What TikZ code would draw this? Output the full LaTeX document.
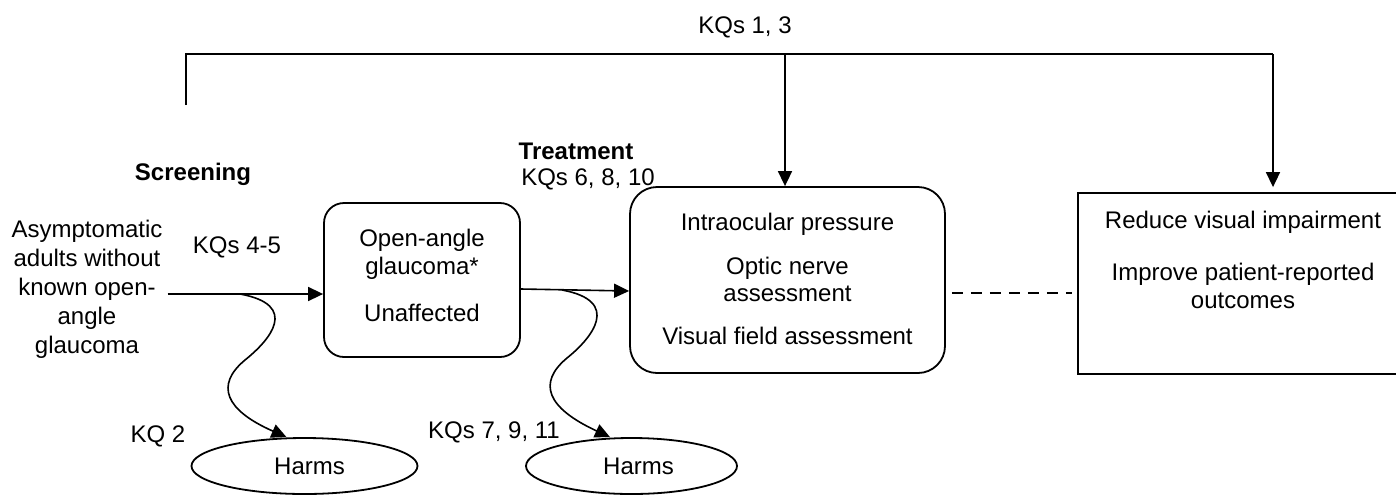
\documentclass[tikz,border=0pt]{standalone}
\usepackage{fontspec}
\setmainfont{Liberation Sans}
\usetikzlibrary{arrows.meta,shapes.geometric}
\begin{document}
\begin{tikzpicture}[x=1pt,y=-1pt,
  every node/.style={font=\fontsize{24}{28}\selectfont, inner sep=0pt},
  lbl/.style={anchor=base},
  boldlbl/.style={anchor=base, font=\fontsize{24}{28}\selectfont\bfseries},
  conn/.style={line width=1.6pt},
  arr/.style={conn,-{Triangle[length=15pt,width=14pt]}},
  rbox/.style={draw, line width=1.8pt, align=center, rounded corners=#1},
  sbox/.style={draw, line width=1.8pt, align=center},
  ell/.style={draw, ellipse, line width=1.8pt},
  startnode/.style={align=center, inner sep=5pt, font=\fontsize{24}{29}\selectfont}]
\clip (0,0) rectangle (1396,496);

% main nodes
\node[startnode] (start) at (87,289.5) {Asymptomatic\\adults without\\known open-\\angle\\glaucoma};
\node[rbox=20pt, minimum width=196pt, minimum height=154pt] (b1) at (422,280)
  {Open-angle\\glaucoma*\\[19pt]Unaffected\rule[-9.6pt]{0pt}{9.6pt}};
\node[rbox=27pt, minimum width=315pt, minimum height=186pt, font=\fontsize{24}{27.5}\selectfont] (b2) at (787.5,280)
  {Intraocular pressure\\[16.5pt]Optic nerve\\assessment\\[15.5pt]Visual field assessment\rule[-2pt]{0pt}{2pt}};
\node[sbox, minimum width=330pt, minimum height=181pt] (b3) at (1243,283.5)
  {Reduce visual impairment\\[24pt]Improve patient-reported\\outcomes\rule[-47pt]{0pt}{47pt}};
\node[ell, minimum width=226pt, minimum height=56pt] (h1) at (304.5,466) {\hspace*{10pt}Harms};
\node[ell, minimum width=211pt, minimum height=56pt] (h2) at (631.5,466) {\hspace*{14pt}Harms};

% labels
\node[lbl] (kq13) at (745,33.6) {KQs 1, 3};
\node[boldlbl] (scr) at (193,180.6) {Screening};
\node[boldlbl] (trt) at (576,159.6) {Treatment};
\node[lbl] (kq6) at (588,185.6) {KQs 6, 8, 10};
\node[lbl] (kq45) at (237,253.6) {KQs 4-5};
\node[lbl] (kq2) at (158,442.6) {KQ 2};
\node[lbl] (kq7) at (494,438.6) {KQs 7, 9, 11};

% connectors
\draw[arr] ([yshift=-4.5pt]start.east) -- ([yshift=-14pt]b1.west);
\draw[arr] ([yshift=-9pt]b1.east) -- ([yshift=-11pt]b2.west);

\coordinate (w1) at (240,294);
\coordinate (w2) at (562,290);
\draw[arr] (w1) .. controls (300,305) and (270,340) .. (245,360)
  .. controls (215,385) and (225,410) .. ([xshift=-18pt]h1.north);
\draw[arr] (w2) .. controls (622,301) and (592,338) .. (567,358)
  .. controls (537,383) and (547,408) .. ([xshift=-21.5pt]h2.north);

\coordinate (tl) at (186,105);
\coordinate (tc) at (785,54);
\coordinate (tr) at (1273,54);
\draw[conn] (tl) |- (tr);
\draw[arr] (tc) -- (tc |- b2.north);
\draw[arr, shorten >=5pt] (tr) -- (tr |- b3.north);

\draw[conn, dash pattern=on 11pt off 8pt, shorten <=6pt, shorten >=5pt]
  ([yshift=-13pt]b2.east) -- ([yshift=-9.5pt]b3.west);
\end{tikzpicture}
\end{document}
